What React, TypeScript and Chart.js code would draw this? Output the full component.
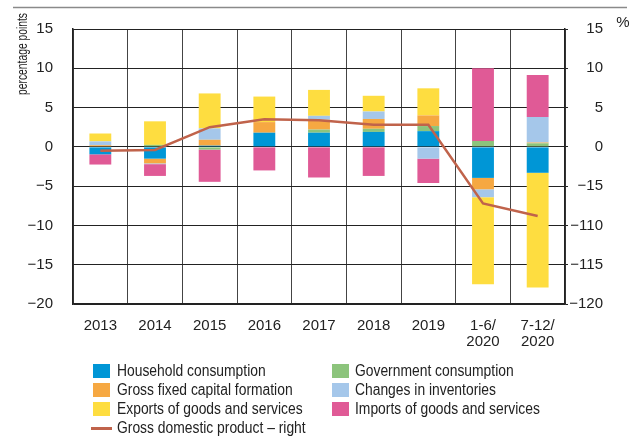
import React, { useEffect, useRef } from "react";
import { Chart, registerables } from "chart.js";

Chart.register(...registerables);

const categories: (string | string[])[] = ["2013", "2014", "2015", "2016", "2017", "2018", "2019", ["1-6/", "2020"], ["7-12/", "2020"]];
const household = [-0.95, -1.5, 0.15, 1.8, 1.8, 1.9, 2.0, -3.95, -3.3];
const government = [0, 0.25, -0.35, 0, 0.4, 0.4, 0.65, 0.75, 0.45];
const gfcf = [0.2, -0.6, 0.75, 1.35, 1.25, 1.25, 1.35, -1.45, 0.1];
const inventories = [0.5, -0.1, 1.45, 0, 0.5, 0.95, -1.5, -1.0, 3.25];
const exportsGS = [1.0, 3.0, 4.45, 3.25, 3.3, 2.0, 3.45, -11.1, -14.6];
const importsGS = [-1.3, -1.5, -4.1, -3.0, -3.9, -3.7, -3.1, 9.25, 5.35];
const gdp = [-0.5, -0.4, 2.5, 3.5, 3.4, 2.8, 2.8, -7.2, -8.8];

const leftTicks: Record<string, string> = { "15": "15", "10": "10", "5": "5", "0": "0", "-5": "−5", "-10": "−10", "-15": "−15", "-20": "−20" };
const rightTicks: Record<string, string> = { "15": "15", "10": "10", "5": "5", "0": "0", "-5": "−15", "-10": "−110", "-15": "−115", "-20": "−120" };

const FONT = "'Liberation Sans', Arial, sans-serif";

const C = {
  blue: "#0096d6",
  green: "#8cc47c",
  orange: "#f6a842",
  lightblue: "#a5c7ea",
  yellow: "#fedd40",
  pink: "#e05a96",
  line: "#c0634b",
};

const legendItems = [
  { label: "Household consumption", color: C.blue, col: 0, row: 0 },
  { label: "Government consumption", color: C.green, col: 1, row: 0 },
  { label: "Gross fixed capital formation", color: C.orange, col: 0, row: 1 },
  { label: "Changes in inventories", color: C.lightblue, col: 1, row: 1 },
  { label: "Exports of goods and services", color: C.yellow, col: 0, row: 2 },
  { label: "Imports of goods and services", color: C.pink, col: 1, row: 2 },
];

const decorPlugin = {
  id: "decor",
  afterDraw(chart: any) {
    const ctx = chart.ctx;
    ctx.save();
    ctx.strokeStyle = "#8a8a8a";
    ctx.lineWidth = 1.5;
    ctx.beginPath();
    ctx.moveTo(13, 7.5);
    ctx.lineTo(627, 7.5);
    ctx.stroke();
    ctx.fillStyle = "#222";
    ctx.font = `15px ${FONT}`;
    ctx.textAlign = "center";
    ctx.textBaseline = "middle";
    ctx.fillText("%", 623, 23);
    ctx.font = `14px ${FONT}`;
    const w = ctx.measureText("percentage points").width;
    ctx.translate(23, 54);
    ctx.rotate(-Math.PI / 2);
    ctx.scale(82 / w, 1);
    ctx.fillText("percentage points", 0, 0);
    ctx.restore();
  },
};

export default function App() {
  const ref = useRef<HTMLCanvasElement | null>(null);
  useEffect(() => {
    if (!ref.current) return;
    const bar = (label: string, data: number[], color: string) => ({
      type: "bar" as const,
      label,
      data,
      backgroundColor: color,
      borderWidth: 0,
      yAxisID: "y",
      order: 1,
      barPercentage: 0.4,
      categoryPercentage: 1,
    });
    const chart = new Chart(ref.current, {
      type: "bar",
      data: {
        labels: categories as any,
        datasets: [
          bar("Household consumption", household, C.blue),
          bar("Government consumption", government, C.green),
          bar("Gross fixed capital formation", gfcf, C.orange),
          bar("Changes in inventories", inventories, C.lightblue),
          bar("Exports of goods and services", exportsGS, C.yellow),
          bar("Imports of goods and services", importsGS, C.pink),
          {
            type: "line" as const,
            label: "Gross domestic product – right",
            data: gdp,
            borderColor: C.line,
            backgroundColor: C.line,
            borderWidth: 2.5,
            pointRadius: 0,
            tension: 0,
            yAxisID: "y1",
            order: 0,
          } as any,
        ],
      },
      options: {
        animation: false,
        responsive: false,
        devicePixelRatio: 1,
        layout: { padding: { top: 23, left: 0, right: 36, bottom: 0 } },
        plugins: { legend: { display: false }, tooltip: { enabled: false }, title: { display: false } },
        scales: {
          x: {
            stacked: true,
            grid: { offset: true, color: "#444", lineWidth: 1, drawTicks: false },
            border: { color: "#222", width: 1.5 },
            ticks: { color: "#222", padding: 13, font: { family: FONT, size: 15, lineHeight: 1.12 }, maxRotation: 0, autoSkip: false },
            afterFit: (s: any) => { s.height = 133; },
          },
          y: {
            stacked: true,
            position: "left",
            min: -20,
            max: 15,
            grid: { color: "#222", lineWidth: 1, drawTicks: false },
            border: { color: "#222", width: 1.5 },
            ticks: {
              stepSize: 5,
              padding: 20,
              color: "#222",
              font: { family: FONT, size: 15 },
              callback: (v: any) => leftTicks[String(v)] ?? String(v),
            },
            afterFit: (s: any) => { s.width = 73; },
          },
          y1: {
            position: "right",
            min: -20,
            max: 15,
            grid: { drawOnChartArea: false, drawTicks: true, tickLength: 3, color: "#222" },
            border: { color: "#222", width: 1.5 },
            ticks: {
              stepSize: 5,
              padding: 5,
              crossAlign: "far",
              color: "#222",
              font: { family: FONT, size: 15 },
              callback: (v: any) => rightTicks[String(v)] ?? String(v),
            },
            afterFit: (s: any) => { s.width = 38; },
          },
        },
      },
      plugins: [decorPlugin],
    });
    return () => chart.destroy();
  }, []);

  const textStyle: React.CSSProperties = {
    position: "absolute",
    fontFamily: FONT,
    fontSize: 16,
    color: "#222",
    lineHeight: "18px",
    whiteSpace: "nowrap",
    transform: "scaleX(0.866)",
    transformOrigin: "0 0",
  };
  const rowY = [371, 390, 409, 428];
  return (
    <div style={{ position: "absolute", left: 0, top: 0, width: 639, height: 437, background: "#fff" }}>
      <canvas ref={ref} width={639} height={437} style={{ position: "absolute", left: 0, top: 0, width: 639, height: 437 }} />
      {legendItems.map((it) => (
        <React.Fragment key={it.label}>
          <div
            style={{
              position: "absolute",
              left: it.col === 0 ? 93 : 332,
              top: rowY[it.row] - 7,
              width: 17,
              height: 14,
              background: it.color,
            }}
          />
          <div style={{ ...textStyle, left: it.col === 0 ? 117 : 355, top: rowY[it.row] - 9 }}>{it.label}</div>
        </React.Fragment>
      ))}
      <div style={{ position: "absolute", left: 91, top: rowY[3] - 1, width: 21, height: 2.5, background: C.line }} />
      <div style={{ ...textStyle, left: 117, top: rowY[3] - 9 }}>Gross domestic product – right</div>
    </div>
  );
}
